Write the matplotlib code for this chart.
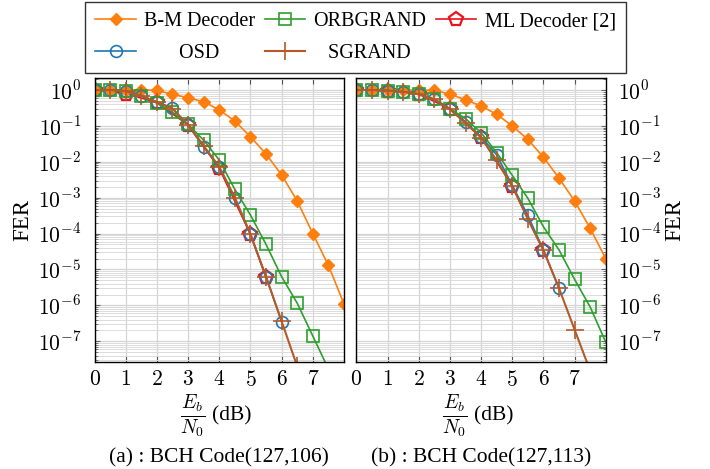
import matplotlib
matplotlib.use("Agg")
import matplotlib.pyplot as plt
import numpy as np
from matplotlib.ticker import FixedLocator, LogLocator, FuncFormatter, NullFormatter

plt.rcParams['font.family'] = 'serif'
plt.rcParams['font.serif'] = ['Liberation Serif', 'DejaVu Serif']
plt.rcParams['mathtext.fontset'] = 'cm'

# ---- data ----
snr = [0, 0.5, 1, 1.5, 2, 2.5, 3, 3.5, 4, 4.5, 5, 5.5, 6, 6.5, 7, 7.5, 8]

# (a) BCH(127,106)
bm_a = [1.0, 1.0, 1.0, 1.0, 0.98, 0.76, 0.61, 0.47, 0.28, 0.137, 0.050, 0.0165, 0.0043, 8.1e-4, 1.0e-4, 1.3e-5, 1.1e-6]
orb_a_x = [0, 0.5, 1, 1.5, 2, 2.5, 3, 3.5, 4, 4.5, 5, 5.5, 6, 6.5, 7, 7.5]
orb_a = [1.0, 1.0, 0.94, 0.69, 0.43, 0.24, 0.11, 0.040, 0.0112, 0.0017, 3.3e-4, 5e-5, 6.3e-6, 1.15e-6, 1.4e-7, 1.7e-8]
osd_a_x = [0, 0.5, 1, 1.5, 2, 2.5, 3, 3.5, 4, 4.5, 5, 5.5, 6]
osd_a = [1.0, 1.0, 0.94, 0.69, 0.47, 0.31, 0.106, 0.026, 0.0073, 1.0e-3, 9.6e-5, 6.3e-6, 3.5e-7]
sg_a_x = [0, 0.5, 1, 1.5, 2, 2.5, 3, 3.5, 4, 4.5, 5, 5.5, 6, 6.5]
sg_a = [1.0, 1.0, 0.94, 0.69, 0.46, 0.30, 0.108, 0.028, 0.0072, 1.0e-3, 9.6e-5, 6.3e-6, 3.6e-7, 2e-8]
ml_a_x = [0, 1, 2, 3, 4, 5, 5.5]
ml_a = [1.0, 0.8, 0.45, 0.106, 0.0066, 9.6e-5, 6e-6]

# (b) BCH(127,113)
bm_b = [1.0, 1.0, 1.0, 1.0, 1.0, 0.98, 0.77, 0.53, 0.36, 0.21, 0.10, 0.042, 0.0134, 0.0035, 8.1e-4, 1.4e-4, 2.0e-5]
orb_b = [1.0, 1.0, 0.97, 0.9, 0.76, 0.55, 0.30, 0.16, 0.064, 0.018, 0.0042, 9.6e-4, 1.55e-4, 3.5e-5, 5.3e-6, 9e-7, 9.4e-8]
osd_b_x = [0, 0.5, 1, 1.5, 2, 2.5, 3, 3.5, 4, 4.5, 5, 5.5, 6, 6.5]
osd_b = [1.0, 1.0, 0.97, 0.9, 0.77, 0.56, 0.30, 0.13, 0.05, 0.0155, 0.0022, 3.2e-4, 3.5e-5, 3e-6]
sg_b_x = [0, 0.5, 1, 1.5, 2, 2.5, 3, 3.5, 4, 4.5, 5, 5.5, 6, 6.5, 7, 7.5]
sg_b = [1.0, 1.0, 0.97, 0.9, 0.77, 0.55, 0.29, 0.12, 0.047, 0.011, 0.0021, 2.5e-4, 3.4e-5, 3e-6, 2.1e-7, 1.5e-8]
ml_b_x = [0, 1, 2, 3, 4, 5, 6]
ml_b = [1.0, 0.97, 0.77, 0.30, 0.048, 0.0021, 3.4e-5]

captions = ['(a) : BCH Code(127,106)', '(b) : BCH Code(127,113)']

c_bm = '#ff7f0e'
c_orb = '#2ca02c'
c_osd = '#1f77b4'
c_sg = '#b35a2a'
c_ml = '#e8141c'

fs = 15.5

fig = plt.figure(figsize=(7.1, 4.69), dpi=100)
axa = fig.add_axes([0.1331, 0.2288, 0.3514, 0.6039])
axb = fig.add_axes([0.5021, 0.2288, 0.3511, 0.6039])

panels = [
    (axa, (snr, bm_a), (orb_a_x, orb_a), (osd_a_x, osd_a), (sg_a_x, sg_a), (ml_a_x, ml_a)),
    (axb, (snr, bm_b), (snr, orb_b), (osd_b_x, osd_b), (sg_b_x, sg_b), (ml_b_x, ml_b)),
]

for i, (ax, bm, orb, osd, sg, ml) in enumerate(panels):
    ax.semilogy(*bm, color=c_bm, marker='D', ms=6.5, mfc=c_bm, mec=c_bm, lw=1.2, label='B-M Decoder')
    ax.semilogy(*osd, color=c_osd, marker='o', ms=8.5, mfc='none', mec=c_osd, mew=1.2, lw=1.2, label='       OSD')
    ax.semilogy(*orb, color=c_orb, marker='s', ms=8.5, mfc='none', mec=c_orb, mew=1.2, lw=1.2, label='ORBGRAND')
    ax.semilogy(*sg, color=c_sg, marker='+', ms=13, mew=1.2, lw=1.5, label='   SGRAND')
    ax.semilogy(*ml, color=c_ml, marker='p', ms=10.5, mfc='none', mec=c_ml, mew=1.6, lw=1.2, label='ML Decoder [2]', zorder=1.9)

    ax.set_xlim(0, 8)
    ax.set_ylim(2.7e-8, 2.1)
    ax.xaxis.set_major_locator(FixedLocator(range(0, 8)))
    ax.xaxis.set_major_formatter(FuncFormatter(lambda v, p: r'$%d$' % v))
    ax.yaxis.set_major_locator(LogLocator(base=10, numticks=20))
    ax.yaxis.set_minor_locator(LogLocator(base=10, subs=np.arange(2, 10), numticks=20))
    ax.yaxis.set_major_formatter(FuncFormatter(lambda v, p: r'$10^{%d}$' % round(np.log10(v))))
    ax.yaxis.set_minor_formatter(NullFormatter())
    ax.grid(True, which='major', color='#d4d4d4', lw=0.9)
    ax.grid(True, which='minor', axis='y', color='#dcdcdc', lw=0.7)
    ax.set_axisbelow(True)
    ax.tick_params(axis='x', which='major', direction='in', top=True, length=4, color='#555555', labelsize=fs, pad=7)
    for sp in ax.spines.values():
        sp.set_linewidth(1.0)

    if i == 0:
        ax.tick_params(axis='y', which='both', direction='in', left=True, right=False, labelsize=fs, color='#666666', pad=9.5)
        ax.set_ylabel('FER', fontsize=16.5, labelpad=3)
    else:
        ax.yaxis.tick_right()
        ax.yaxis.set_label_position('right')
        ax.tick_params(axis='y', which='both', direction='in', left=False, right=True, labelsize=fs, color='#666666', pad=8.5)
        ax.set_ylabel('FER', fontsize=16.5, labelpad=2, rotation=90)

    # x label: fraction + unit
    ax.text(0.445, -0.19, r'$\frac{E_b}{N_0}$', transform=ax.transAxes, ha='right', va='center', fontsize=20)
    ax.text(0.47, -0.19, '(dB)', transform=ax.transAxes, ha='left', va='center', fontsize=fs)
    ax.text(0.5, -0.34, captions[i], transform=ax.transAxes, ha='center', va='center', fontsize=fs)

handles, labels = axa.get_legend_handles_labels()
leg = fig.legend(handles, labels, loc='upper center', bbox_to_anchor=(0.5007, 1.0), ncol=3,
                 fontsize=14.5, frameon=True, fancybox=False, edgecolor='black', borderaxespad=0.1,
                 handlelength=2.0, handletextpad=0.4, columnspacing=0.5, borderpad=0.5, labelspacing=0.65)
leg.get_frame().set_linewidth(1.0)

fig.savefig('out.png', dpi=100)
